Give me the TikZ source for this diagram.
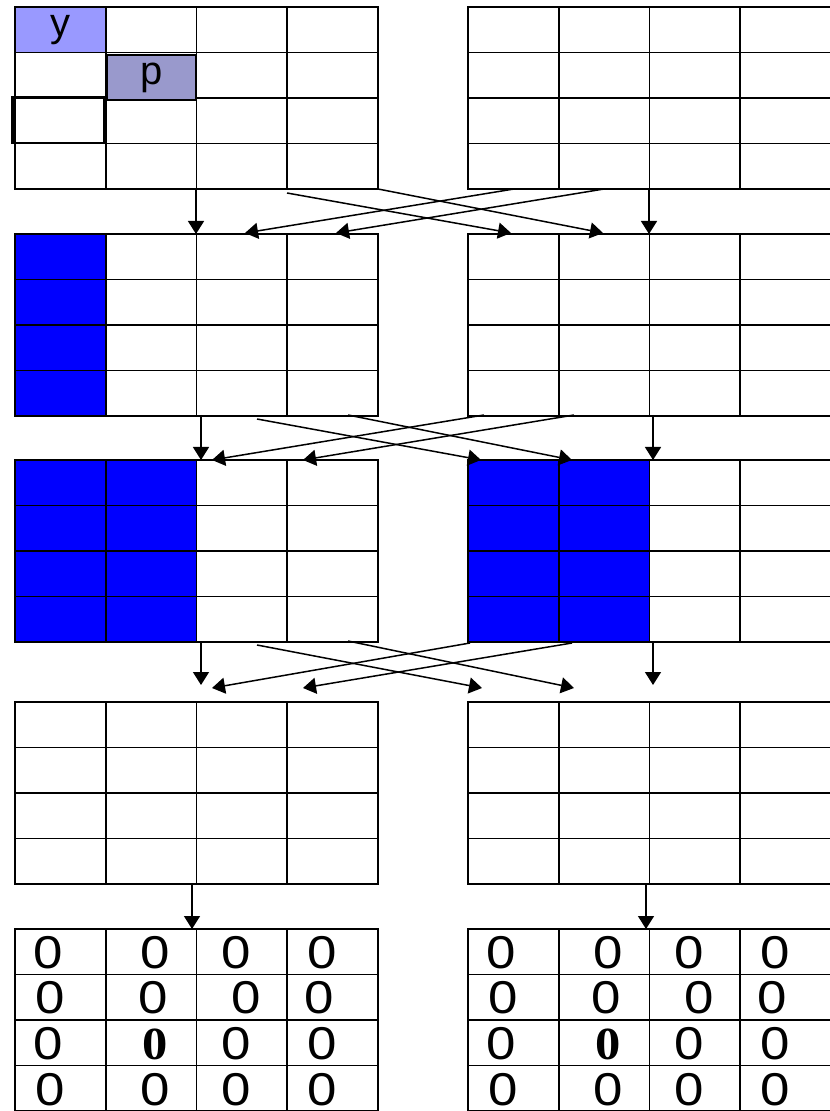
\documentclass[tikz,border=0pt]{standalone}
\usepackage{fontspec}
\setmainfont{Liberation Sans}
\newfontfamily\tnr[FakeStretch=1.1]{Liberation Serif}
\newfontfamily\zfont[FakeStretch=1.15]{Liberation Sans}
\usetikzlibrary{arrows.meta}
\definecolor{ylight}{RGB}{153,153,255}
\definecolor{pgray}{RGB}{153,153,204}
\tikzset{
  >={Triangle[length=6.5pt,width=8pt]},
  cell/.style={rectangle,draw,line width=0.9pt,minimum width=45.375pt,minimum height=22.75pt,
    inner sep=0pt,outer sep=0pt,anchor=north west},
  hit/.style={cell,fill=blue},
  zero/.style={inner sep=0pt,font=\zfont\fontsize{23}{23}\selectfont},
  lbl/.style={inner sep=0pt,font=\fontsize{20}{20}\selectfont},
  every picture/.style={line width=0.75pt},
}
\begin{document}
\begin{tikzpicture}[x=0.5pt,y=-0.5pt]
\useasboundingbox (0,0) rectangle (829,1111);
% five rows of 4x4 grids, left and right
\foreach \g/\gy in {1/7,2/234,3/460,4/702,5/929}
  \foreach \s/\gx in {L/15,R/468}
    \foreach \r in {1,...,4}
      \foreach \c in {1,...,4}
        \node[cell] (\s\g-\r-\c) at ({\gx+(\c-1)*90.75},{\gy+(\r-1)*45.5}) {};
% marked cells of the first grid
\node[cell,fill=ylight] (ycell) at (L1-1-1.north west) {};
\node[lbl] (ytxt) at (ycell.center) {y};
\node[cell,fill=pgray,line width=0.6pt,minimum width=44.5pt,minimum height=22.5pt] (pcell) at (107,55) {};
\node[lbl] (ptxt) at (pcell.center) {p};
\node[cell,line width=1.2pt,minimum width=45.75pt] (kcell) at (12.5,97.5) {};
% blue columns
\foreach \r in {1,...,4} {
  \node[hit] (bA-\r) at (L2-\r-1.north west) {};
  \node[hit] (bB-\r) at (L3-\r-1.north west) {}; \node[hit] (bC-\r) at (L3-\r-2.north west) {};
  \node[hit] (bD-\r) at (R3-\r-1.north west) {}; \node[hit] (bE-\r) at (R3-\r-2.north west) {};
}
% zeros
\foreach \s/\ox in {L/0,R/453} {
  \foreach \r/\yy/\xa/\xb/\xc/\xd in {1/953/48/155/236/322,2/998/50/153/246/319,4/1090/50/155/236/322} {
    \node[zero] (\s z\r-1) at (\ox+\xa,\yy) {0}; \node[zero] (\s z\r-2) at (\ox+\xb,\yy) {0};
    \node[zero] (\s z\r-3) at (\ox+\xc,\yy) {0}; \node[zero] (\s z\r-4) at (\ox+\xd,\yy) {0};
  }
  \node[zero] (\s z3-1) at (\ox+48,1044) {0}; \node[zero] (\s z3-2) at (\ox+155,1044) {\tnr\bfseries 0};
  \node[zero] (\s z3-3) at (\ox+236,1044) {0}; \node[zero] (\s z3-4) at (\ox+322,1044) {0};
}
% arrow ends
\coordinate (a1) at (196,189); \coordinate (a2) at (196,234); \coordinate (a3) at (649,189); \coordinate (a4) at (649,234);
\coordinate (a5) at (287,193); \coordinate (a6) at (511,233); \coordinate (a7) at (378,189); \coordinate (a8) at (603,233);
\coordinate (a9) at (514,189); \coordinate (a10) at (245,233); \coordinate (a11) at (604,189); \coordinate (a12) at (336,233);
\coordinate (b1) at (201,415); \coordinate (b2) at (201,460); \coordinate (b3) at (653,415); \coordinate (b4) at (653,460);
\coordinate (b5) at (257,419); \coordinate (b6) at (481,460); \coordinate (b7) at (348,415); \coordinate (b8) at (572,460);
\coordinate (b9) at (484,415); \coordinate (b10) at (212,460); \coordinate (b11) at (574,415); \coordinate (b12) at (303,460);
\coordinate (c1) at (201,641); \coordinate (c2) at (201,685); \coordinate (c3) at (653,641); \coordinate (c4) at (653,685);
\coordinate (c5) at (257,645); \coordinate (c6) at (482,688); \coordinate (c7) at (348,641); \coordinate (c8) at (574,688);
\coordinate (c9) at (470,643); \coordinate (c10) at (212,688); \coordinate (c11) at (572,643); \coordinate (c12) at (303,688);
\coordinate (d1) at (192,884); \coordinate (d2) at (192,929); \coordinate (d3) at (646,884); \coordinate (d4) at (646,929);
\foreach \k in {a,b,c} {
  \draw[->] (\k1)--(\k2); \draw[->] (\k3)--(\k4); \draw[->] (\k5)--(\k6);
  \draw[->] (\k7)--(\k8); \draw[->] (\k9)--(\k10); \draw[->] (\k11)--(\k12);
}
\draw[->] (d1)--(d2); \draw[->] (d3)--(d4);
\end{tikzpicture}
\end{document}
